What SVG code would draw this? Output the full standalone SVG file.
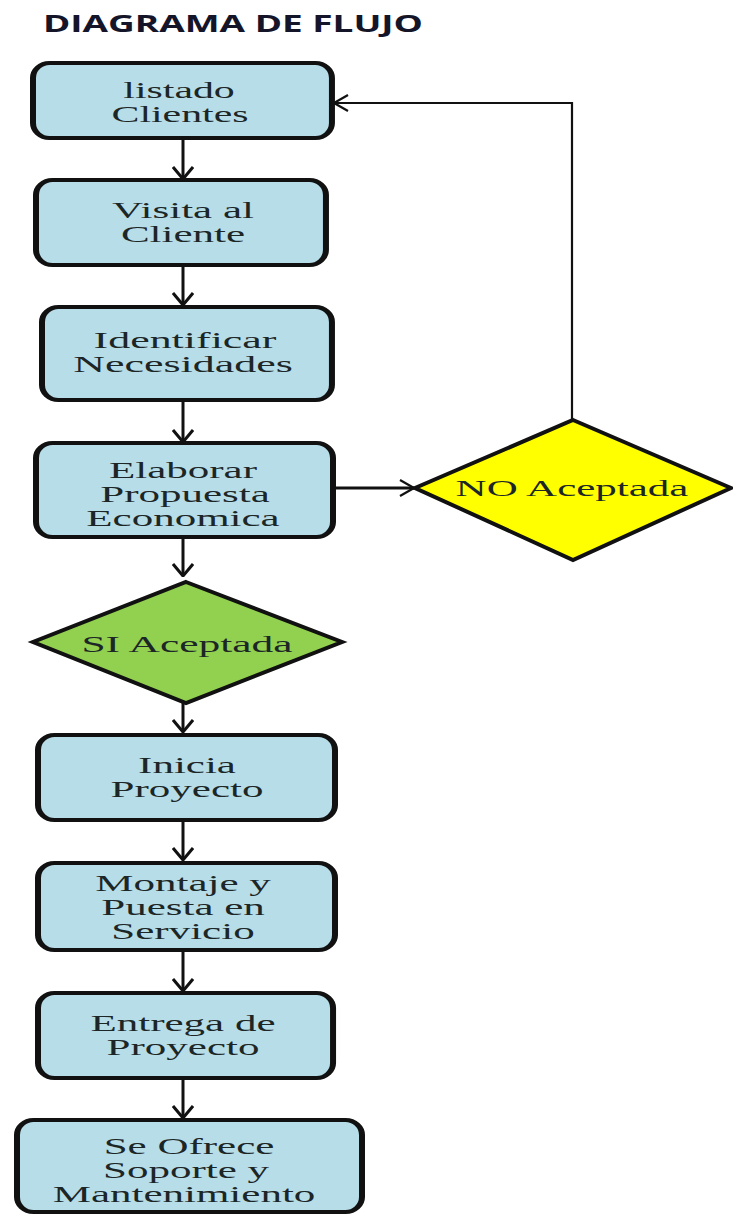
<svg xmlns="http://www.w3.org/2000/svg" width="733" height="1215" viewBox="0 0 733 1215">
<style>
.box{fill:#b7dde8;stroke:#111;stroke-width:4}
.yes{fill:#92d050;stroke:#111;stroke-width:4}
.no{fill:#ffff00;stroke:#111;stroke-width:4}
.t{font-family:"Liberation Serif","Times New Roman",serif;font-size:23.5px;fill:#1c2626;text-anchor:middle}
.c{fill:none;stroke:#111;stroke-width:3}
.c2{fill:none;stroke:#111;stroke-width:2.2}
.title{font-family:"Open Sans","DejaVu Sans",sans-serif;font-weight:bold;font-size:23px;fill:#15152a}
</style>
<defs>
<marker id="ah" viewBox="0 0 14 22" refX="13" refY="11" markerWidth="14" markerHeight="22" markerUnits="userSpaceOnUse" orient="auto">
<path d="M1,1 L13,11 L1,21" fill="none" stroke="#111" stroke-width="3"/>
</marker>
<marker id="ah2" viewBox="0 0 16 18" refX="15" refY="9" markerWidth="16" markerHeight="18" markerUnits="userSpaceOnUse" orient="auto">
<path d="M1,1 L15,9 L1,17" fill="none" stroke="#111" stroke-width="2.2"/>
</marker>
</defs>
<rect width="733" height="1215" fill="#fff"/>
<text class="title" x="43" y="32" textLength="380" lengthAdjust="spacingAndGlyphs">DIAGRAMA DE FLUJO</text>

<g id="connectors">
<line class="c" x1="183" y1="138" x2="183" y2="179" marker-end="url(#ah)"/>
<line class="c" x1="183" y1="265" x2="183" y2="305" marker-end="url(#ah)"/>
<line class="c" x1="183" y1="400" x2="183" y2="442" marker-end="url(#ah)"/>
<line class="c" x1="333" y1="488" x2="414" y2="488" marker-end="url(#ah2)"/>
<polyline class="c2" points="572,420 572,103 334,103" marker-end="url(#ah2)"/>
<line class="c" x1="183" y1="537" x2="183" y2="576" marker-end="url(#ah)"/>
<line class="c" x1="183" y1="690" x2="183" y2="732" marker-end="url(#ah)"/>
<line class="c" x1="183" y1="820" x2="183" y2="860" marker-end="url(#ah)"/>
<line class="c" x1="183" y1="950" x2="183" y2="991" marker-end="url(#ah)"/>
<line class="c" x1="183" y1="1078" x2="183" y2="1118" marker-end="url(#ah)"/>
</g>

<g id="n1">
<rect class="box" transform="translate(33,63) scale(1.5,1)" width="199.3" height="75" rx="11" ry="15"/>
<text class="t" transform="translate(179,98) scale(1.78,1)">listado</text>
<text class="t" transform="translate(180,122) scale(1.78,1)">Clientes</text>
</g>
<g id="n2">
<rect class="box" transform="translate(36,180) scale(1.5,1)" width="193.3" height="85" rx="11" ry="15"/>
<text class="t" transform="translate(183,218) scale(1.83,1)">Visita al</text>
<text class="t" transform="translate(183,242) scale(1.83,1)">Cliente</text>
</g>
<g id="n3">
<rect class="box" transform="translate(42,307) scale(1.5,1)" width="193.3" height="93" rx="11" ry="15"/>
<text class="t" transform="translate(185,348) scale(1.87,1)">Identificar</text>
<text class="t" transform="translate(183,372) scale(1.87,1)">Necesidades</text>
</g>
<g id="n4">
<rect class="box" transform="translate(36,443) scale(1.5,1)" width="198" height="94" rx="11" ry="15"/>
<text class="t" transform="translate(183,478) scale(1.83,1)">Elaborar</text>
<text class="t" transform="translate(185,502) scale(1.83,1)">Propuesta</text>
<text class="t" transform="translate(183,526) scale(1.83,1)">Economica</text>
</g>
<g id="no">
<polygon class="no" points="573,420 731,488 573,560 415,488"/>
<text class="t" transform="translate(572,496) scale(1.83,1)">NO Aceptada</text>
</g>
<g id="si">
<polygon class="yes" points="186,582 342,642 186,703 33,642"/>
<text class="t" transform="translate(187,652) scale(1.85,1)">SI Aceptada</text>
</g>
<g id="n5">
<rect class="box" transform="translate(38,735) scale(1.5,1)" width="198" height="85" rx="11" ry="15"/>
<text class="t" transform="translate(187,773) scale(1.83,1)">Inicia</text>
<text class="t" transform="translate(187,797) scale(1.83,1)">Proyecto</text>
</g>
<g id="n6">
<rect class="box" transform="translate(38,863) scale(1.5,1)" width="198" height="87" rx="11" ry="15"/>
<text class="t" transform="translate(183,891) scale(1.83,1)">Montaje y</text>
<text class="t" transform="translate(183,915) scale(1.83,1)">Puesta en</text>
<text class="t" transform="translate(183,939) scale(1.83,1)">Servicio</text>
</g>
<g id="n7">
<rect class="box" transform="translate(38,993) scale(1.5,1)" width="196.7" height="85" rx="11" ry="15"/>
<text class="t" transform="translate(183,1031) scale(1.83,1)">Entrega de</text>
<text class="t" transform="translate(183,1055) scale(1.83,1)">Proyecto</text>
</g>
<g id="n8">
<rect class="box" transform="translate(17,1120) scale(1.5,1)" width="230" height="92" rx="11" ry="15"/>
<text class="t" transform="translate(189,1154) scale(1.83,1)">Se Ofrece</text>
<text class="t" transform="translate(186,1178) scale(1.83,1)">Soporte y</text>
<text class="t" transform="translate(184,1202) scale(1.83,1)">Mantenimiento</text>
</g>
</svg>
